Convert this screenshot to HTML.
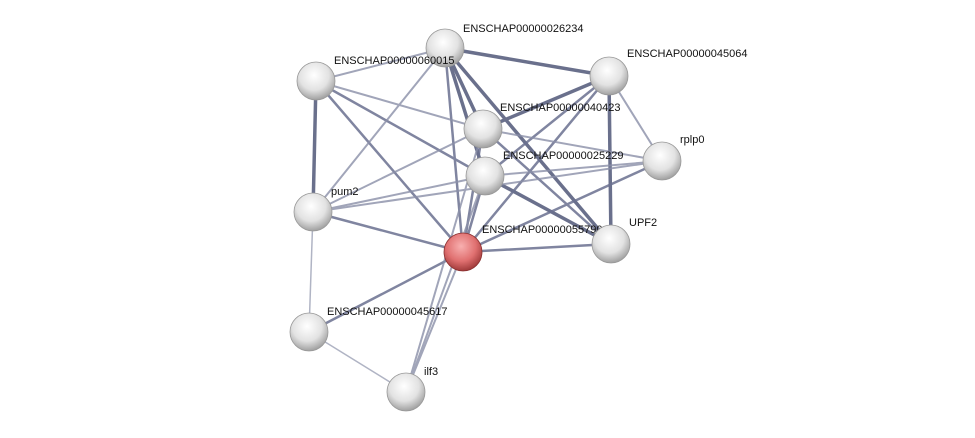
<!DOCTYPE html>
<html><head><style>
body{margin:0;background:#fff;}
svg{display:block;}
text{font-family:"Liberation Sans",sans-serif;font-size:11px;fill:#111;}
</style></head><body>
<svg width="975" height="438" xmlns="http://www.w3.org/2000/svg">
<defs>
<radialGradient id="g" cx="45%" cy="35%" r="65%">
<stop offset="0" stop-color="#ffffff"/><stop offset="0.6" stop-color="#e2e2e2"/><stop offset="1" stop-color="#a0a0a0"/>
</radialGradient>
<radialGradient id="r" cx="45%" cy="35%" r="65%">
<stop offset="0" stop-color="#f8b0b0"/><stop offset="0.6" stop-color="#e07070"/><stop offset="1" stop-color="#a03a3a"/>
</radialGradient>
</defs>
<g stroke-linecap="round">
<g stroke="#5a6180" stroke-width="3.5" opacity="0.9">
<line x1="316" y1="81" x2="313" y2="212"/>
<line x1="445" y1="48" x2="609" y2="76"/>
<line x1="445" y1="48" x2="611" y2="244"/>
<line x1="609" y1="76" x2="483" y2="129"/>
<line x1="609" y1="76" x2="611" y2="244"/>
<line x1="485" y1="176" x2="611" y2="244"/>
<line x1="445" y1="48" x2="483" y2="129"/>
<line x1="445" y1="48" x2="485" y2="176"/>
</g>
<g stroke="#6a7090" stroke-width="2.5" opacity="0.85">
<line x1="316" y1="81" x2="463" y2="252"/>
<line x1="445" y1="48" x2="463" y2="252"/>
<line x1="483" y1="129" x2="463" y2="252"/>
<line x1="485" y1="176" x2="463" y2="252"/>
<line x1="609" y1="76" x2="485" y2="176"/>
<line x1="609" y1="76" x2="463" y2="252"/>
<line x1="483" y1="129" x2="611" y2="244"/>
<line x1="463" y1="252" x2="611" y2="244"/>
<line x1="463" y1="252" x2="313" y2="212"/>
<line x1="463" y1="252" x2="662" y2="161"/>
<line x1="463" y1="252" x2="309" y2="332"/>
<line x1="316" y1="81" x2="485" y2="176"/>
</g>
<g stroke="#8a8fa8" stroke-width="2" opacity="0.8">
<line x1="316" y1="81" x2="445" y2="48"/>
<line x1="316" y1="81" x2="483" y2="129"/>
<line x1="445" y1="48" x2="313" y2="212"/>
<line x1="483" y1="129" x2="313" y2="212"/>
<line x1="485" y1="176" x2="313" y2="212"/>
<line x1="662" y1="161" x2="313" y2="212"/>
<line x1="483" y1="129" x2="662" y2="161"/>
<line x1="609" y1="76" x2="662" y2="161"/>
<line x1="485" y1="176" x2="662" y2="161"/>
<line x1="463" y1="252" x2="406" y2="392"/>
<line x1="483" y1="129" x2="406" y2="392"/>
<line x1="485" y1="176" x2="406" y2="392"/>
</g>
<g stroke="#b0b4c4" stroke-width="1.5">
<line x1="313" y1="212" x2="309" y2="332"/>
<line x1="309" y1="332" x2="406" y2="392"/>
</g>
</g>
<g>
<text x="463" y="32">ENSCHAP00000026234</text>
<text x="627" y="57">ENSCHAP00000045064</text>
<text x="500" y="111">ENSCHAP00000040423</text>
<text x="503" y="159">ENSCHAP00000025229</text>
<text x="680" y="143">rplp0</text>
<text x="331" y="195">pum2</text>
<text x="482" y="233">ENSCHAP00000055790</text>
<text x="629" y="226">UPF2</text>
<text x="327" y="315">ENSCHAP00000045617</text>
<text x="424" y="375">ilf3</text>
</g>
<g>
<circle cx="445" cy="48" r="19" fill="url(#g)" stroke="#999" stroke-width="0.8"/>
<circle cx="316" cy="81" r="19" fill="url(#g)" stroke="#999" stroke-width="0.8"/>
<circle cx="609" cy="76" r="19" fill="url(#g)" stroke="#999" stroke-width="0.8"/>
<circle cx="483" cy="129" r="19" fill="url(#g)" stroke="#999" stroke-width="0.8"/>
<circle cx="485" cy="176" r="19" fill="url(#g)" stroke="#999" stroke-width="0.8"/>
<circle cx="662" cy="161" r="19" fill="url(#g)" stroke="#999" stroke-width="0.8"/>
<circle cx="313" cy="212" r="19" fill="url(#g)" stroke="#999" stroke-width="0.8"/>
<circle cx="611" cy="244" r="19" fill="url(#g)" stroke="#999" stroke-width="0.8"/>
<circle cx="309" cy="332" r="19" fill="url(#g)" stroke="#999" stroke-width="0.8"/>
<circle cx="406" cy="392" r="19" fill="url(#g)" stroke="#999" stroke-width="0.8"/>
<circle cx="463" cy="252" r="19" fill="url(#r)" stroke="#8a3030" stroke-width="0.8"/>
</g>
<text x="334" y="64">ENSCHAP00000060015</text>
</svg>
</body></html>
